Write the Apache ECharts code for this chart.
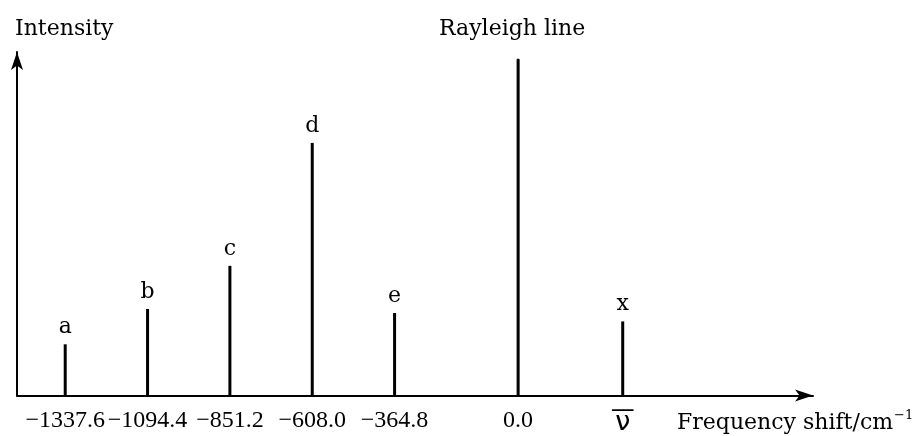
<!DOCTYPE html>
<html>
<head>
<meta charset="utf-8">
<script src="https://cdn.jsdelivr.net/npm/echarts@6/dist/echarts.min.js"></script>
<style>html,body{margin:0;padding:0;background:#fff;}#c{width:920px;height:436px;}</style>
</head>
<body>
<div id="c"></div>
<script>
// Data
const lineNames   = ['a', 'b', 'c', 'd', 'e', 'Rayleigh line', 'x'];
const shifts      = [-1337.6, -1094.4, -851.2, -608.0, -364.8, 0.0, 309];
const intensities = [15.2, 25.7, 38.5, 75.0, 24.5, 100, 22.0];
const tickValues  = [-1337.6, -1094.4, -851.2, -608.0, -364.8, 0.0, 309];
const tickLabels  = ['\u22121337.6', '\u22121094.4', '\u2212851.2', '\u2212608.0', '\u2212364.8', '0.0', '{o|\u2014}\n{v|\u03BD}'];

const serif = 'DejaVu Serif';
const numFont = 'Liberation Serif';

const data = shifts.map((s, i) => {
  const item = { name: lineNames[i], value: [s, intensities[i]] };
  if (lineNames[i] === 'Rayleigh line') {
    item.itemStyle = { borderWidth: 1, borderColor: '#000' };
    item.label = { distance: 18, offset: [-6, 0] };
  }
  return item;
});

const chart = echarts.init(document.getElementById('c'), null, { renderer: 'canvas' });
chart.setOption({
  animation: false,
  backgroundColor: '#fff',
  title: [
    { text: 'Intensity', left: 10, top: 13,
      textStyle: { fontFamily: serif, fontSize: 22, fontWeight: 'normal', color: '#000' } },
    { text: '{a|Frequency shift/cm}{s|\u22121}', left: 672, top: 404,
      textStyle: { fontWeight: 'normal', rich: {
        a: { fontFamily: serif, fontSize: 22, fontWeight: 'normal', color: '#000' },
        s: { fontFamily: serif, fontSize: 13, fontWeight: 'normal', color: '#000', padding: [0, 0, 16, 1] }
      } } }
  ],
  grid: { left: 17, right: 107, top: 52, bottom: 39, containLabel: false },
  xAxis: {
    type: 'value', min: -1480, max: 871,
    axisLine: { onZero: false, lineStyle: { color: '#000', width: 2 }, symbol: ['none', 'arrow'], symbolSize: [9, 18] },
    axisTick: { show: false },
    splitLine: { show: false },
    axisLabel: {
      customValues: tickValues,
      margin: 13,
      color: '#000',
      fontFamily: numFont,
      fontSize: 24,
      formatter: (v) => {
        const i = tickValues.findIndex(t => Math.abs(t - v) < 1e-6);
        return i >= 0 ? tickLabels[i] : '';
      },
      rich: {
        o: { fontFamily: 'DejaVu Sans', fontSize: 24, lineHeight: 4, color: '#000' },
        v: { fontFamily: 'DejaVu Sans', fontSize: 27, lineHeight: 20, color: '#000' }
      }
    }
  },
  yAxis: {
    type: 'value', min: 0, max: 102,
    axisLine: { show: true, onZero: false, lineStyle: { color: '#000', width: 2 }, symbol: ['none', 'arrow'], symbolSize: [9, 18] },
    axisTick: { show: false },
    splitLine: { show: false },
    axisLabel: { show: false }
  },
  series: [{
    type: 'bar',
    barWidth: 3,
    itemStyle: { color: '#000' },
    label: {
      show: true, position: 'top', distance: 6, formatter: '{b}',
      fontFamily: serif, fontSize: 22, color: '#000'
    },
    data: data
  }]
});
</script>
</body>
</html>
